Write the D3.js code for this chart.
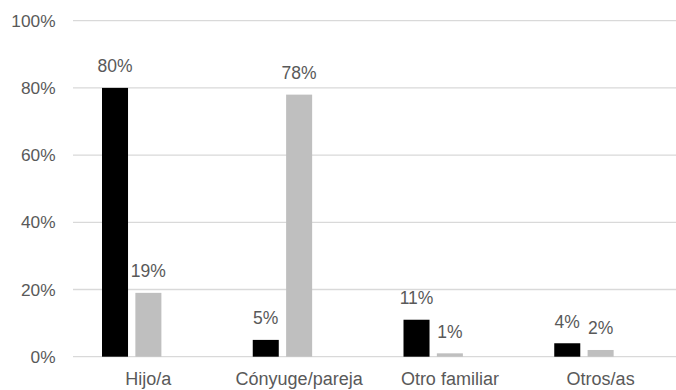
<!DOCTYPE html>
<html>
<head>
<meta charset="utf-8">
<script src="https://cdn.jsdelivr.net/npm/d3@7"></script>
<style>
  html, body { margin: 0; padding: 0; background: #fff; }
  svg { display: block; font-family: "Liberation Sans", Arial, sans-serif; }
</style>
</head>
<body>
<svg id="chart" width="676" height="390"></svg>
<script>
// Relationship categories and the two series (shares, %)
const categories = ["Hijo/a", "Cónyuge/pareja", "Otro familiar", "Otros/as"];
const seriesA = [80, 5, 11, 4];
const seriesB = [19, 78, 1, 2];
const yTicks = [0, 20, 40, 60, 80, 100];

const seriesColors = ["#000000", "#bfbfbf"];
const textColor = "#595959";
const gridColor = "#d9d9d9";

const svg = d3.select("#chart");
const plot = { left: 73, right: 676, top: 20.7, bottom: 356.7 };

const x0 = d3.scaleBand().domain(categories).range([plot.left, plot.right]).padding(0);
// three slots per category; the third one stays empty
const x1 = d3.scaleBand().domain([0, 1, 2])
  .range([29, x0.bandwidth() - 29]).paddingInner(0.22).paddingOuter(0);
const y = d3.scaleLinear().domain([0, 100]).range([plot.bottom, plot.top]);

// horizontal gridlines
svg.append("g").selectAll("line").data(yTicks).join("line")
  .attr("x1", plot.left).attr("x2", plot.right)
  .attr("y1", d => y(d)).attr("y2", d => y(d))
  .attr("stroke", gridColor).attr("stroke-width", 1.3);

// y axis labels
const yAxis = svg.append("g")
  .attr("transform", `translate(${plot.left},0)`)
  .call(d3.axisLeft(y).tickValues(yTicks).tickFormat(d => d + "%").tickSize(0).tickPadding(17.5));
yAxis.select(".domain").remove();
yAxis.selectAll("text").attr("fill", textColor).attr("font-size", 17.3)
  .attr("font-family", "'Liberation Sans', Arial, sans-serif");

// x axis labels
const xAxis = svg.append("g")
  .attr("transform", `translate(0,${plot.bottom})`)
  .call(d3.axisBottom(x0).tickSize(0).tickPadding(15.5));
xAxis.select(".domain").remove();
xAxis.selectAll("text").attr("fill", textColor).attr("font-size", 18)
  .attr("font-family", "'Liberation Sans', Arial, sans-serif");

const rows = categories.map((c, i) => ({ cat: c, vals: [seriesA[i], seriesB[i]] }));

const groups = svg.append("g").selectAll("g").data(rows).join("g")
  .attr("transform", d => `translate(${x0(d.cat)},0)`);

groups.selectAll("rect").data(d => d.vals.map((v, k) => ({ v, k }))).join("rect")
  .attr("x", d => x1(d.k))
  .attr("width", x1.bandwidth())
  .attr("y", d => y(d.v))
  .attr("height", d => y(0) - y(d.v))
  .attr("fill", d => seriesColors[d.k]);

groups.selectAll("text").data(d => d.vals.map((v, k) => ({ v, k }))).join("text")
  .attr("x", d => x1(d.k) + x1.bandwidth() / 2)
  .attr("y", d => y(d.v) - 15.5)
  .attr("text-anchor", "middle")
  .attr("fill", textColor)
  .attr("font-size", 17.5)
  .text(d => d.v + "%");
</script>
</body>
</html>
